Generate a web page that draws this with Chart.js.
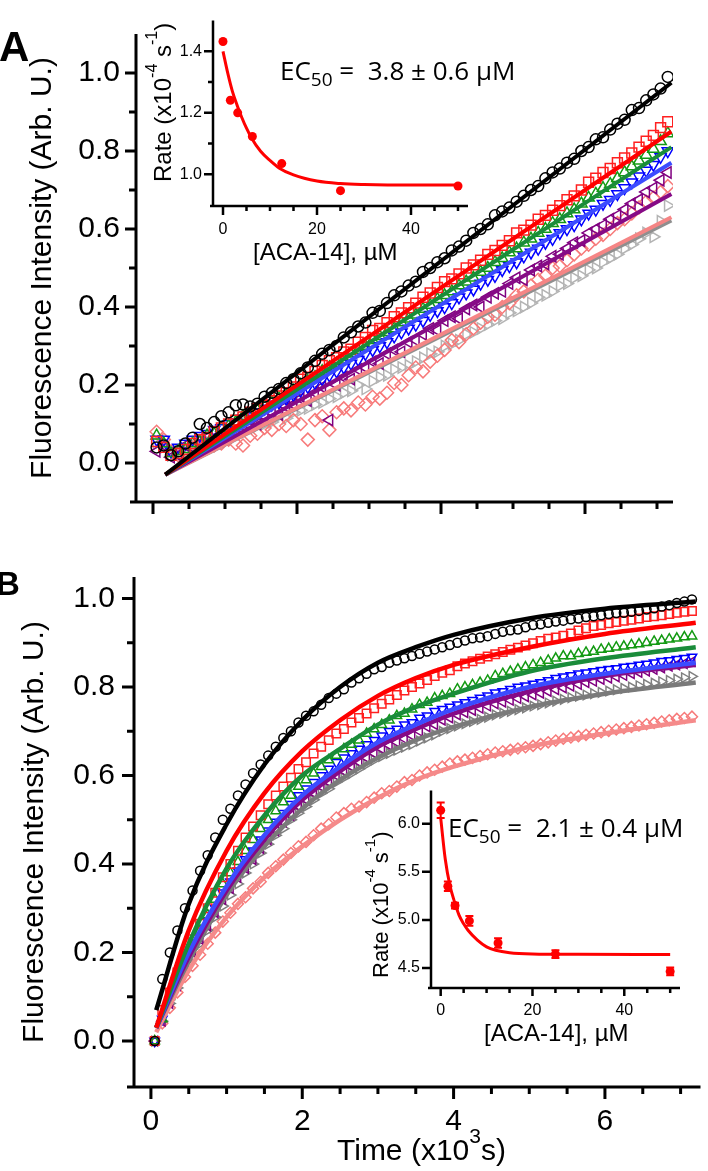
<!DOCTYPE html>
<html><head><meta charset="utf-8">
<script src="https://cdn.jsdelivr.net/npm/chart.js"></script>
<style>
html,body{margin:0;padding:0;background:#fff;}
#wrap{position:relative;width:708px;height:1171px;overflow:hidden;background:#fff;}
canvas{position:absolute;}
.t{position:absolute;white-space:nowrap;line-height:1;color:#000;font-family:'Liberation Sans',Arial,sans-serif;}
.ec{position:absolute;white-space:nowrap;line-height:1;color:#000;font-family:'Open Sans',sans-serif;font-size:26px;}
.ec .sub{font-size:19px;position:relative;top:6px;}
.rot{transform-origin:0 0;transform:rotate(-90deg);}
</style></head><body>
<div id="wrap">
<canvas id="mainA" width="708" height="540" style="left:0;top:0"></canvas>
<canvas id="mainB" width="708" height="631" style="left:0;top:540px"></canvas>
<canvas id="insA" width="360" height="290" style="left:140px;top:0"></canvas>
<canvas id="insB" width="368" height="300" style="left:340px;top:770px"></canvas>

<div class="t" style="left:-1px;top:26px;font-size:42px;font-weight:bold">A</div>
<div class="t" style="left:-4px;top:567px;font-size:33px;font-weight:bold">B</div>
<div class="ec" style="left:280px;top:57px">EC<span class="sub">50</span> =&nbsp; 3.8 ± 0.6 µM</div>
<div class="ec" style="left:448px;top:814px">EC<span class="sub">50</span> =&nbsp; 2.1 ± 0.4 µM</div>
<div class="t" style="left:337px;top:1135px;font-size:30px">Time (x10<span style="font-size:21px;position:relative;top:-17px">3</span>s)</div>
<div class="t" style="left:253px;top:240px;font-size:24px">[ACA-14], µM</div>
<div class="t" style="left:484px;top:1021px;font-size:24px">[ACA-14], µM</div>
<div class="t rot" style="left:151px;top:182px;font-size:24px">Rate (x10<span style="font-size:16px;position:relative;top:-14px">-4</span> s<span style="font-size:16px;position:relative;top:-14px">-1</span>)</div>
<div class="t rot" style="left:370px;top:978px;font-size:22px">Rate (x10<span style="font-size:15px;position:relative;top:-13px">-4</span> s<span style="font-size:15px;position:relative;top:-13px">-1</span>)</div>
</div>
<script>
// ---------- shared time grid (x10^3 s) ----------
const TIME = [0.05,0.15,0.25,0.35,0.45,0.55,0.65,0.75,0.85,0.95,
 1.05,1.15,1.25,1.35,1.45,1.55,1.65,1.75,1.85,1.95,
 2.05,2.15,2.25,2.35,2.45,2.55,2.65,2.75,2.85,2.95,
 3.05,3.15,3.25,3.35,3.45,3.55,3.65,3.75,3.85,3.95,
 4.05,4.15,4.25,4.35,4.45,4.55,4.65,4.75,4.85,4.95,
 5.05,5.15,5.25,5.35,5.45,5.55,5.65,5.75,5.85,5.95,
 6.05,6.15,6.25,6.35,6.45,6.55,6.65,6.75,6.85,6.95,
 7.05,7.15];

// ---------- panel A markers ----------
const A_BLACK = [0.04,0.045,0.02,0.03,0.05,0.065,0.10,0.09,0.105,0.12,
 0.13,0.148,0.15,0.145,0.152,0.17,0.18,0.19,0.205,0.215,
 0.23,0.245,0.262,0.28,0.29,0.30,0.322,0.335,0.35,0.36,
 0.385,0.39,0.41,0.43,0.44,0.455,0.465,0.49,0.50,0.515,
 0.525,0.545,0.555,0.57,0.59,0.60,0.612,0.635,0.645,0.655,
 0.67,0.685,0.70,0.71,0.73,0.745,0.755,0.77,0.78,0.80,
 0.81,0.83,0.835,0.855,0.87,0.88,0.905,0.91,0.93,0.945,
 0.96,0.99];
const A_RED = [0.055,0.04,0.02,0.025,0.035,0.05,0.06,0.065,0.08,0.09,
 0.10,0.11,0.118,0.13,0.14,0.148,0.16,0.172,0.18,0.195,
 0.215,0.22,0.235,0.25,0.262,0.27,0.285,0.292,0.31,0.322,
 0.34,0.345,0.36,0.375,0.385,0.398,0.41,0.425,0.436,0.45,
 0.465,0.472,0.485,0.50,0.508,0.52,0.535,0.545,0.558,0.57,
 0.59,0.597,0.61,0.625,0.635,0.648,0.66,0.675,0.685,0.70,
 0.72,0.73,0.745,0.755,0.77,0.782,0.795,0.81,0.825,0.84,
 0.86,0.875];
const A_GREEN = [0.07,0.05,0.025,0.03,0.035,0.05,0.055,0.07,0.075,0.09,
 0.095,0.105,0.12,0.125,0.135,0.145,0.155,0.165,0.175,0.185,
 0.20,0.21,0.22,0.235,0.245,0.255,0.265,0.28,0.29,0.30,
 0.315,0.325,0.335,0.345,0.36,0.37,0.38,0.395,0.405,0.42,
 0.43,0.44,0.455,0.465,0.475,0.49,0.50,0.515,0.525,0.54,
 0.55,0.565,0.575,0.59,0.60,0.615,0.625,0.64,0.65,0.665,
 0.68,0.69,0.705,0.715,0.73,0.745,0.76,0.775,0.79,0.805,
 0.825,0.845];
const A_BLUE = [0.06,0.06,0.03,0.04,0.05,0.06,0.07,0.075,0.085,0.09,
 0.10,0.105,0.115,0.12,0.13,0.14,0.15,0.155,0.165,0.175,
 0.185,0.195,0.205,0.215,0.225,0.235,0.245,0.255,0.265,0.28,
 0.29,0.30,0.31,0.325,0.335,0.345,0.355,0.365,0.38,0.39,
 0.40,0.41,0.425,0.435,0.445,0.46,0.47,0.48,0.495,0.505,
 0.515,0.53,0.54,0.55,0.565,0.575,0.59,0.60,0.61,0.625,
 0.64,0.65,0.665,0.675,0.69,0.705,0.72,0.735,0.75,0.765,
 0.785,0.80];
const A_PURPLE = [0.03,0.045,0.015,0.02,0.045,0.04,0.05,0.065,0.06,0.075,
 0.085,0.08,0.095,0.11,0.10,0.12,0.13,0.125,0.145,0.15,
 0.165,0.16,0.18,0.195,0.11,0.20,0.22,0.215,0.24,0.245,
 0.26,0.255,0.28,0.29,0.285,0.31,0.315,0.33,0.345,0.34,
 0.365,0.375,0.37,0.395,0.405,0.40,0.425,0.435,0.44,0.46,
 0.475,0.47,0.495,0.505,0.51,0.53,0.535,0.55,0.565,0.57,
 0.59,0.60,0.61,0.625,0.635,0.65,0.665,0.675,0.695,0.705,
 0.725,0.745];
const A_SALMON = [0.08,0.06,0.03,0.02,0.03,0.04,0.035,0.05,0.045,0.05,
 0.06,0.05,0.045,0.07,0.075,0.09,0.085,0.10,0.095,0.11,
 0.10,0.06,0.11,0.12,0.085,0.13,0.14,0.135,0.155,0.15,
 0.17,0.165,0.18,0.205,0.20,0.225,0.245,0.235,0.26,0.275,
 0.29,0.315,0.31,0.33,0.345,0.36,0.375,0.38,0.40,0.41,
 0.43,0.44,0.455,0.47,0.48,0.50,0.505,0.52,0.535,0.55,
 0.56,0.575,0.585,0.60,0.615,0.625,0.64,0.655,0.67,0.68,
 0.695,0.71];
const A_GRAY = [0.05,0.04,0.02,0.03,0.03,0.045,0.04,0.055,0.06,0.065,
 0.07,0.075,0.08,0.09,0.095,0.10,0.105,0.12,0.115,0.13,
 0.135,0.14,0.15,0.155,0.165,0.17,0.18,0.185,0.20,0.19,
 0.21,0.22,0.225,0.24,0.245,0.25,0.26,0.27,0.28,0.285,
 0.30,0.305,0.315,0.33,0.335,0.345,0.355,0.365,0.37,0.385,
 0.39,0.40,0.41,0.425,0.43,0.44,0.455,0.46,0.475,0.48,
 0.495,0.50,0.515,0.525,0.535,0.55,0.56,0.575,0.59,0.58,
 0.62,0.66];

// ---------- panel A linear fits ----------
const A_FIT_T = [0.17, 7.2];
const A_FIT_BLACK = [-0.03, 0.975];
const A_FIT_RED = [-0.03, 0.85];
const A_FIT_GREEN = [-0.03, 0.81];
const A_FIT_BLUE = [-0.03, 0.77];
const A_FIT_PURPLE = [-0.03, 0.69];
const A_FIT_SALMON = [-0.03, 0.63];
const A_FIT_GRAY = [-0.03, 0.622];

// ---------- panel B markers ----------
const B_BLACK = [0,0.14,0.20,0.25,0.30,0.34,0.385,0.42,0.46,0.50,
 0.525,0.555,0.58,0.605,0.625,0.645,0.665,0.685,0.70,0.72,
 0.735,0.745,0.76,0.775,0.785,0.795,0.81,0.82,0.83,0.84,
 0.845,0.855,0.86,0.865,0.87,0.875,0.88,0.885,0.89,0.895,
 0.90,0.905,0.91,0.912,0.915,0.92,0.925,0.928,0.93,0.935,
 0.94,0.942,0.945,0.948,0.95,0.953,0.955,0.958,0.96,0.962,
 0.965,0.967,0.968,0.97,0.972,0.975,0.978,0.982,0.985,0.99,
 0.993,0.998];
const B_RED = [0,0.07,0.11,0.155,0.19,0.23,0.265,0.30,0.335,0.37,
 0.40,0.43,0.46,0.485,0.51,0.535,0.555,0.575,0.595,0.615,
 0.63,0.65,0.665,0.68,0.695,0.705,0.72,0.73,0.74,0.752,
 0.762,0.772,0.782,0.792,0.80,0.808,0.816,0.825,0.832,0.838,
 0.847,0.853,0.858,0.864,0.869,0.874,0.879,0.884,0.889,0.894,
 0.899,0.904,0.909,0.912,0.916,0.921,0.928,0.933,0.938,0.94,
 0.944,0.947,0.95,0.952,0.955,0.958,0.96,0.962,0.965,0.968,
 0.97,0.972];
const B_GREEN = [0,0.05,0.10,0.145,0.185,0.215,0.25,0.285,0.32,0.355,
 0.38,0.405,0.43,0.455,0.48,0.50,0.52,0.54,0.555,0.575,
 0.59,0.605,0.62,0.635,0.645,0.66,0.67,0.68,0.695,0.705,
 0.715,0.725,0.735,0.74,0.75,0.76,0.765,0.775,0.78,0.785,
 0.795,0.80,0.805,0.81,0.815,0.825,0.83,0.835,0.84,0.845,
 0.85,0.855,0.86,0.865,0.87,0.87,0.875,0.878,0.88,0.885,
 0.887,0.89,0.892,0.895,0.897,0.90,0.903,0.905,0.908,0.91,
 0.913,0.915];
const B_BLUE = [0,0.05,0.09,0.13,0.175,0.205,0.235,0.27,0.30,0.335,
 0.36,0.385,0.41,0.43,0.455,0.475,0.495,0.515,0.535,0.555,
 0.57,0.585,0.60,0.615,0.63,0.64,0.65,0.66,0.67,0.68,
 0.69,0.70,0.705,0.715,0.72,0.73,0.735,0.745,0.75,0.755,
 0.76,0.765,0.77,0.775,0.78,0.787,0.79,0.795,0.80,0.803,
 0.807,0.81,0.815,0.82,0.823,0.826,0.83,0.832,0.835,0.838,
 0.84,0.842,0.845,0.847,0.85,0.852,0.855,0.858,0.86,0.863,
 0.865,0.868];
const B_PURPLE = [0,0.045,0.085,0.125,0.17,0.20,0.23,0.26,0.29,0.32,
 0.345,0.37,0.39,0.41,0.435,0.455,0.475,0.495,0.51,0.53,
 0.545,0.56,0.575,0.585,0.60,0.61,0.62,0.63,0.64,0.65,
 0.66,0.668,0.675,0.683,0.69,0.70,0.71,0.715,0.725,0.73,
 0.737,0.742,0.747,0.752,0.757,0.762,0.766,0.77,0.774,0.778,
 0.782,0.786,0.79,0.794,0.798,0.802,0.806,0.81,0.813,0.817,
 0.82,0.823,0.826,0.83,0.833,0.836,0.84,0.843,0.847,0.85,
 0.853,0.857];
const B_GRAY = [0,0.045,0.085,0.12,0.16,0.19,0.22,0.25,0.28,0.305,
 0.33,0.355,0.38,0.40,0.425,0.445,0.465,0.48,0.50,0.515,
 0.53,0.545,0.56,0.57,0.585,0.595,0.605,0.615,0.625,0.635,
 0.643,0.65,0.657,0.664,0.67,0.678,0.685,0.692,0.70,0.706,
 0.712,0.717,0.722,0.727,0.732,0.737,0.741,0.745,0.749,0.753,
 0.757,0.76,0.764,0.768,0.772,0.776,0.779,0.782,0.785,0.788,
 0.791,0.794,0.797,0.80,0.803,0.806,0.809,0.812,0.815,0.818,
 0.821,0.824];
const B_SALMON = [0,0.04,0.075,0.11,0.145,0.17,0.195,0.22,0.245,0.27,
 0.29,0.31,0.325,0.345,0.36,0.38,0.395,0.41,0.425,0.44,
 0.45,0.465,0.48,0.49,0.505,0.515,0.525,0.53,0.54,0.55,
 0.56,0.565,0.575,0.585,0.59,0.60,0.607,0.613,0.62,0.627,
 0.632,0.636,0.64,0.644,0.648,0.652,0.655,0.658,0.661,0.664,
 0.667,0.671,0.675,0.679,0.683,0.686,0.689,0.692,0.695,0.698,
 0.701,0.704,0.707,0.71,0.713,0.716,0.719,0.722,0.725,0.728,
 0.73,0.733];

// ---------- panel B exponential fits ----------
const B_FIT_T = [0.07,0.5,1,1.5,2,2.5,3,3.5,4,5,6,7.2];
const B_FIT_BLACK = [0.07,0.31,0.49,0.625,0.725,0.80,0.855,0.89,0.918,0.955,0.977,0.993];
const B_FIT_RED = [0.03,0.25,0.43,0.56,0.655,0.725,0.78,0.82,0.85,0.89,0.92,0.945];
const B_FIT_GREEN = [0.03,0.22,0.39,0.51,0.60,0.66,0.715,0.755,0.785,0.835,0.865,0.89];
const B_FIT_BLUE = [0.03,0.20,0.35,0.465,0.555,0.62,0.675,0.715,0.75,0.80,0.83,0.855];
const B_FIT_PURPLE = [0.03,0.19,0.34,0.455,0.545,0.61,0.665,0.705,0.74,0.79,0.825,0.85];
const B_FIT_GRAY = [0.03,0.18,0.33,0.44,0.525,0.59,0.64,0.68,0.71,0.755,0.785,0.81];
const B_FIT_SALMON = [0.02,0.16,0.28,0.37,0.44,0.50,0.55,0.59,0.62,0.665,0.695,0.725];

// ---------- insets ----------
const CONC = [0,1.5625,3.125,6.25,12.5,25,50];
const RATE_A = [1.432,1.241,1.20,1.123,1.035,0.947,0.962];
const RATE_B = [6.14,5.35,5.15,4.99,4.76,4.645,4.465];
const ERR_B = [0.08,0.05,0.03,0.05,0.05,0.04,0.04];
const FIT_CONC_A = [0,1,2,3,4,5,6,8,10,12,15,20,25,30,40,50];
const FIT_RATE_A = [1.40,1.33,1.27,1.225,1.185,1.15,1.12,1.075,1.045,1.02,0.998,0.978,0.97,0.967,0.965,0.965];
const FIT_CONC_B = [0,1,2,3,4,5,6,8,10,12,15,20,30,50];
const FIT_RATE_B = [6.06,5.63,5.36,5.19,5.05,4.96,4.89,4.79,4.72,4.685,4.66,4.647,4.643,4.64];

// ---------- tick positions / labels ----------
const X_MAJOR = [0,2,4,6];
const X_MINOR = [0.5,1,1.5,2.5,3,3.5,4.5,5,5.5,6.5,7];
const Y_MAJOR = [0,0.2,0.4,0.6,0.8,1.0];
const Y_MINOR = [0.1,0.3,0.5,0.7,0.9];
const INS_X_MAJOR = [0,20,40];
const INS_X_MINOR = [5,10,15,25,30,35,45,50];
const INS_A_Y_MAJOR = [1.0,1.2,1.4];
const INS_A_Y_MINOR = [1.1,1.3];
const INS_B_Y_MAJOR = [4.5,5.0,5.5,6.0];

const FONT = "'Liberation Sans', Arial, sans-serif";
Chart.defaults.font.family = FONT;
Chart.defaults.color = '#000';

function pts(xs, ys){ return xs.map((x,i)=>({x:x, y:ys[i]})); }
function marks(ys, color, style, r, rot, order){
  return {data:pts(TIME, ys), showLine:false, pointStyle:style, pointRadius:r, pointRotation:rot||0,
    pointBorderColor:color, pointBackgroundColor:'rgba(0,0,0,0)', pointBorderWidth:1.5, order:order};
}
function fit(xs, ys, color, w, smooth){
  return {data:pts(xs, ys), showLine:true, pointRadius:0, borderColor:color, borderWidth:w, fill:false,
    cubicInterpolationMode: smooth ? 'monotone' : 'default', tension:0, order:0};
}
function axesPlugin(o){
  return {id:'axes', afterDatasetsDraw(chart){
    const c=chart.ctx, a=chart.chartArea, X=chart.scales.x, Y=chart.scales.y;
    c.save(); c.strokeStyle='#000'; c.lineWidth=o.lw; c.lineCap='butt';
    c.beginPath();
    c.moveTo(a.left, a.top); c.lineTo(a.left, a.bottom + o.lw/2);
    c.moveTo(a.left - o.over, a.bottom); c.lineTo(a.right, a.bottom);
    const tx=(arr,len)=>arr.forEach(v=>{const p=X.getPixelForValue(v); c.moveTo(p,a.bottom); c.lineTo(p,a.bottom+len);});
    const ty=(arr,len)=>arr.forEach(v=>{const p=Y.getPixelForValue(v); c.moveTo(a.left,p); c.lineTo(a.left-len,p);});
    tx(o.xMaj,o.xMajLen); tx(o.xMin,o.xMinLen); ty(o.yMaj,o.yMajLen); ty(o.yMin,o.yMinLen);
    c.stroke(); c.restore();
  }};
}
function scaleX(min,max,h,ticks,showLabels,size,pad){
  return {type:'linear', min:min, max:max, afterFit(s){s.height=h;},
    grid:{display:false, drawTicks:false}, border:{display:false},
    afterBuildTicks(s){ s.ticks = ticks.map(v=>({value:v})); },
    ticks:{display:showLabels, autoSkip:false, maxRotation:0, padding:pad, font:{size:size}, color:'#000', callback:v=>String(v)}};
}
function scaleY(min,max,w,ticks,size,pad,title){
  const s = {type:'linear', min:min, max:max, afterFit(sc){sc.width=w;},
    grid:{display:false, drawTicks:false}, border:{display:false},
    afterBuildTicks(sc){ sc.ticks = ticks.map(v=>({value:v})); },
    ticks:{autoSkip:false, padding:pad, font:{size:size}, color:'#000', callback:v=>Number(v).toFixed(1)}};
  if (title) s.title = {display:true, text:title.text, font:{size:30}, color:'#000', padding:{top:title.pad, bottom:0}};
  return s;
}
const base = {responsive:false, animation:false, events:[], plugins:{legend:{display:false}, tooltip:{enabled:false}}};

// ---------- main A ----------
new Chart(document.getElementById('mainA'), {
  type:'scatter',
  data:{datasets:[
    fit(A_FIT_T, A_FIT_BLACK, '#000000', 4),
    fit(A_FIT_T, A_FIT_RED, '#ff0000', 4),
    fit(A_FIT_T, A_FIT_GREEN, '#1a8c3a', 4),
    fit(A_FIT_T, A_FIT_BLUE, '#3c4cff', 4),
    fit(A_FIT_T, A_FIT_PURPLE, '#860a86', 4),
    fit(A_FIT_T, A_FIT_SALMON, '#f58585', 4),
    fit(A_FIT_T, A_FIT_GRAY, '#8f8f8f', 4),
    marks(A_BLACK, '#000000', 'circle', 5.5, 0, 1),
    marks(A_RED, '#ff2020', 'rect', 7, 0, 2),
    marks(A_GREEN, '#139a13', 'triangle', 6.5, 0, 3),
    marks(A_BLUE, '#0000ff', 'triangle', 6.5, 180, 4),
    marks(A_PURPLE, '#800080', 'triangle', 6.5, 270, 5),
    marks(A_SALMON, '#f77a7a', 'rectRot', 6.5, 0, 6),
    marks(A_GRAY, '#b4b4b4', 'triangle', 6.5, 90, 7)
  ]},
  options:Object.assign({}, base, {
    layout:{padding:{left:0, top:7, right:35, bottom:0}},
    scales:{
      x: scaleX(-0.2361, 7.2222, 38, X_MAJOR, false, 30, 17),
      y: scaleY(-0.1, 1.1, 136, Y_MAJOR, 30, 16, {text:'Fluorescence Intensity (Arb. U.)', pad:25})
    }
  }),
  plugins:[axesPlugin({lw:3, over:6, xMaj:X_MAJOR, xMin:X_MINOR, yMaj:Y_MAJOR, yMin:Y_MINOR, xMajLen:12, xMinLen:7, yMajLen:11, yMinLen:7})]
});

// ---------- main B ----------
new Chart(document.getElementById('mainB'), {
  type:'scatter',
  data:{datasets:[
    fit(B_FIT_T, B_FIT_BLACK, '#000000', 4.5, true),
    fit(B_FIT_T, B_FIT_RED, '#ff0000', 4.5, true),
    fit(B_FIT_T, B_FIT_GREEN, '#1a8c3a', 4.5, true),
    fit(B_FIT_T, B_FIT_BLUE, '#3c4cff', 4.5, true),
    fit(B_FIT_T, B_FIT_PURPLE, '#860a86', 4.5, true),
    fit(B_FIT_T, B_FIT_GRAY, '#7a7a7a', 4.5, true),
    fit(B_FIT_T, B_FIT_SALMON, '#f58a8a', 4.5, true),
    marks(B_BLACK, '#000000', 'circle', 4.5, 0, 1),
    marks(B_RED, '#ff2020', 'rect', 6, 0, 2),
    marks(B_GREEN, '#139a13', 'triangle', 5.5, 0, 3),
    marks(B_BLUE, '#0000ff', 'triangle', 5.5, 180, 4),
    marks(B_PURPLE, '#800080', 'triangle', 5.5, 270, 5),
    marks(B_GRAY, '#808080', 'triangle', 5.5, 90, 6),
    marks(B_SALMON, '#f77a7a', 'rectRot', 5.5, 0, 7)
  ]},
  options:Object.assign({}, base, {
    layout:{padding:{left:0, top:25, right:5, bottom:0}},
    scales:{
      x: scaleX(-0.2237, 7.263, 84, X_MAJOR, true, 30, 17),
      y: scaleY(-0.1038, 1.0486, 134, Y_MAJOR, 30, 19, {text:'Fluorescence Intensity (Arb. U.)', pad:17})
    }
  }),
  plugins:[axesPlugin({lw:3, over:7, xMaj:X_MAJOR, xMin:X_MINOR, yMaj:Y_MAJOR, yMin:Y_MINOR, xMajLen:12, xMinLen:7, yMajLen:12, yMinLen:7})]
});

// ---------- inset A ----------
new Chart(document.getElementById('insA'), {
  type:'scatter',
  data:{datasets:[
    {data:pts(CONC, RATE_A), showLine:false, pointStyle:'circle', pointRadius:4.5, pointBackgroundColor:'#ff0000', pointBorderColor:'#ff0000', pointBorderWidth:0, order:0},
    {data:pts(FIT_CONC_A, FIT_RATE_A), showLine:true, pointRadius:0, borderColor:'#ff0000', borderWidth:3, cubicInterpolationMode:'monotone', fill:false, order:1}
  ]},
  options:Object.assign({}, base, {
    layout:{padding:{left:0, top:1, right:32, bottom:0}},
    scales:{
      x: scaleX(-2.128, 52.13, 84, INS_X_MAJOR, true, 16, 14),
      y: scaleY(0.897, 1.5, 73, INS_A_Y_MAJOR, 16, 11, null)
    }
  }),
  plugins:[axesPlugin({lw:2.5, over:3, xMaj:INS_X_MAJOR, xMin:INS_X_MINOR, yMaj:INS_A_Y_MAJOR, yMin:INS_A_Y_MINOR, xMajLen:9, xMinLen:5, yMajLen:9, yMinLen:5})]
});

// ---------- inset B ----------
const errPlugin = {id:'err', beforeDatasetsDraw(chart){
  const c=chart.ctx, X=chart.scales.x, Y=chart.scales.y;
  c.save(); c.strokeStyle='#ff0000'; c.lineWidth=2; c.beginPath();
  CONC.forEach((x,i)=>{
    const px=X.getPixelForValue(x), t=Y.getPixelForValue(RATE_B[i]+ERR_B[i]), b=Y.getPixelForValue(RATE_B[i]-ERR_B[i]);
    c.moveTo(px,t); c.lineTo(px,b); c.moveTo(px-4,t); c.lineTo(px+4,t); c.moveTo(px-4,b); c.lineTo(px+4,b);
  });
  c.stroke(); c.restore();
}};
new Chart(document.getElementById('insB'), {
  type:'scatter',
  data:{datasets:[
    {data:pts(CONC, RATE_B), showLine:false, pointStyle:'circle', pointRadius:4.5, pointBackgroundColor:'#ff0000', pointBorderColor:'#ff0000', pointBorderWidth:0, order:0},
    {data:pts(FIT_CONC_B, FIT_RATE_B), showLine:true, pointRadius:0, borderColor:'#ff0000', borderWidth:3, cubicInterpolationMode:'monotone', fill:false, order:1}
  ]},
  options:Object.assign({}, base, {
    layout:{padding:{left:0, top:17, right:28, bottom:0}},
    scales:{
      x: scaleX(-2.11, 52.14, 82, INS_X_MAJOR, true, 16, 13),
      y: scaleY(4.293, 6.344, 91, INS_B_Y_MAJOR, 16, 11, null)
    }
  }),
  plugins:[errPlugin, axesPlugin({lw:2.5, over:3, xMaj:INS_X_MAJOR, xMin:INS_X_MINOR, yMaj:INS_B_Y_MAJOR, yMin:[], xMajLen:8, xMinLen:5, yMajLen:9, yMinLen:5})]
});
</script>
</body></html>
